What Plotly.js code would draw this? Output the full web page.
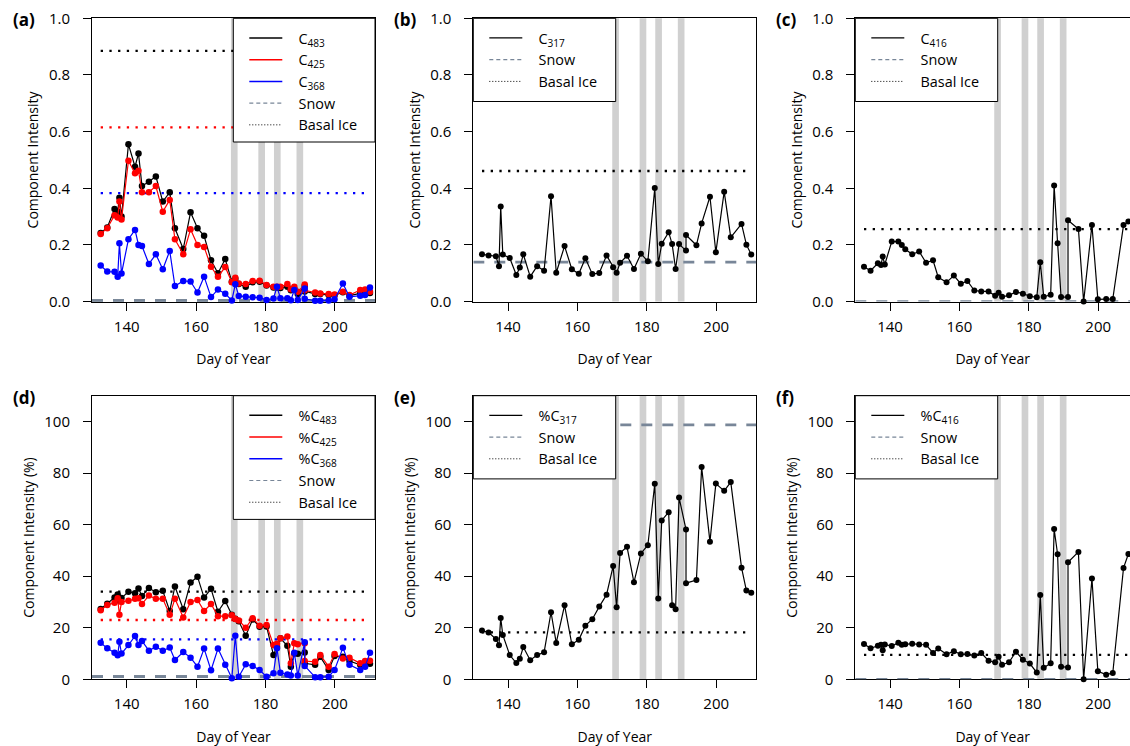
<!DOCTYPE html>
<html><head><meta charset="utf-8">
<script src="https://cdn.plot.ly/plotly-3.0.1.min.js"></script>
<style>html,body{margin:0;padding:0;background:#fff;overflow:hidden}#chart{width:1130px;height:746px}</style>
</head><body><div id="chart"></div>
<script>
// ---------------- data ----------------
const days = [132.5, 134.4, 136.5, 137.4, 137.9, 138.5, 140.5, 142.4, 143.4, 144.4,
  146.4, 148.4, 150.4, 152.4, 153.9, 156.3, 158.4, 160.4, 162.3, 164.3,
  166.3, 168.4, 170.3, 171.3, 172.3, 174.3, 176.3, 178.3, 180.3, 182.3,
  183.3, 184.3, 186.3, 187.3, 188.3, 189.3, 191.3, 191.3, 194.3, 195.8,
  198.2, 199.9, 202.3, 204.2, 207.3, 208.7, 210.1];

const c483 = [0.242, 0.262, 0.327, 0.318, 0.367, 0.300, 0.555, 0.476, 0.523, 0.408,
  0.423, 0.442, 0.353, 0.386, 0.259, 0.186, 0.315, 0.259, 0.232, 0.146,
  0.100, 0.150, 0.070, 0.080, 0.062, 0.052, 0.068, 0.070, 0.057, 0.050,
  0.050, 0.048, 0.052, 0.040, 0.045, 0.027, 0.055, 0.036, 0.027, 0.027,
  0.023, 0.022, 0.033, 0.021, 0.029, 0.031, 0.030];
const c425 = [0.239, 0.259, 0.305, 0.297, 0.353, 0.290, 0.497, 0.453, 0.462, 0.386,
  0.386, 0.408, 0.317, 0.359, 0.220, 0.167, 0.255, 0.200, 0.193, 0.123,
  0.088, 0.122, 0.068, 0.084, 0.064, 0.062, 0.073, 0.074, 0.059, 0.052,
  0.052, 0.052, 0.062, 0.044, 0.052, 0.035, 0.060, 0.040, 0.032, 0.029,
  0.027, 0.025, 0.035, 0.023, 0.041, 0.043, 0.035];
const c368 = [0.127, 0.106, 0.105, 0.088, 0.206, 0.099, 0.220, 0.253, 0.200, 0.196,
  0.133, 0.167, 0.114, 0.179, 0.055, 0.073, 0.071, 0.032, 0.088, 0.016,
  0.043, 0.028, 0.004, 0.061, 0.020, 0.017, 0.015, 0.014, 0.006, 0.011,
  0.052, 0.012, 0.012, 0.005, 0.041, 0.006, 0.046, 0.010, 0.003, 0.003,
  0.004, 0.008, 0.064, 0.017, 0.021, 0.023, 0.050];
const c317 = [0.167, 0.163, 0.160, 0.125, 0.336, 0.166, 0.154, 0.094, 0.120, 0.167,
  0.088, 0.125, 0.109, 0.372, 0.102, 0.196, 0.114, 0.098, 0.153, 0.097,
  0.101, 0.163, 0.121, 0.102, 0.137, 0.162, 0.115, 0.169, 0.142, 0.401,
  0.133, 0.204, 0.245, 0.203, 0.115, 0.203, 0.180, 0.235, 0.199, 0.276,
  0.370, 0.174, 0.388, 0.227, 0.274, 0.201, 0.166];
const c416 = [0.123, 0.109, 0.135, 0.129, 0.159, 0.131, 0.212, 0.212, 0.200, 0.185,
  0.167, 0.177, 0.137, 0.146, 0.086, 0.068, 0.092, 0.063, 0.073, 0.039,
  0.036, 0.036, 0.021, 0.031, 0.017, 0.022, 0.034, 0.028, 0.019, 0.015,
  0.139, 0.017, 0.024, 0.410, 0.206, 0.016, 0.016, 0.287, 0.256, 0.000,
  0.270, 0.008, 0.009, 0.009, 0.270, 0.283, 0.285];

const pc483 = [27.3, 29.3, 31.7, 32.9, 30.5, 31.5, 34.0, 33.4, 35.2, 32.3,
  35.4, 33.8, 34.3, 26.5, 36.0, 27.2, 37.5, 39.8, 31.7, 35.1,
  26.2, 30.4, 25.0, 23.5, 22.5, 16.9, 23.2, 20.4, 20.5, 9.4,
  12.5, 15.9, 13.0, 4.9, 10.0, 9.9, 10.4, 6.2, 5.6, 8.7,
  3.6, 9.0, 8.7, 7.1, 5.6, 6.2, 6.0];
const pc425 = [26.8, 28.8, 29.7, 31.4, 25.0, 30.0, 30.5, 31.2, 31.4, 29.2,
  32.5, 31.2, 31.2, 25.0, 31.2, 24.0, 30.0, 30.8, 26.5, 29.2,
  24.5, 24.5, 24.8, 23.4, 22.8, 20.0, 23.7, 20.8, 21.1, 13.3,
  13.8, 15.9, 16.6, 6.2, 14.0, 13.6, 14.0, 7.1, 6.8, 9.4,
  4.9, 9.8, 8.1, 8.4, 6.2, 7.1, 7.2];
const pc368 = [14.2, 12.0, 10.3, 9.3, 14.6, 10.0, 13.3, 16.8, 13.3, 14.9,
  11.1, 12.6, 11.1, 12.3, 7.5, 10.6, 8.4, 4.9, 11.9, 3.5,
  11.9, 5.6, 0.4, 16.9, 1.0, 5.8, 5.2, 3.6, 1.0, 2.3,
  12.0, 2.5, 1.9, 1.5, 10.3, 1.5, 14.4, 5.2, 0.8, 0.8,
  1.0, 3.6, 12.2, 5.6, 3.6, 4.9, 10.3];
const pc317 = [18.9, 18.2, 15.6, 13.2, 23.8, 17.2, 9.4, 6.3, 8.0, 12.5,
  7.4, 9.4, 10.5, 26.0, 14.1, 28.7, 13.6, 15.3, 20.8, 23.3,
  28.2, 32.8, 43.9, 27.9, 49.0, 51.4, 37.6, 48.8, 52.0, 75.8,
  31.3, 61.6, 64.8, 28.7, 27.2, 70.5, 58.1, 37.3, 38.5, 82.3,
  53.4, 75.9, 73.1, 76.5, 43.3, 34.4, 33.6];
const pc416 = [13.7, 12.0, 13.0, 13.4, 11.3, 13.5, 12.9, 14.2, 13.4, 13.6,
  13.8, 13.5, 13.4, 10.2, 11.9, 9.7, 10.9, 9.7, 9.8, 9.2,
  10.2, 7.2, 6.6, 8.7, 5.6, 6.6, 10.7, 7.6, 6.1, 2.6,
  32.7, 4.5, 6.2, 58.3, 48.5, 4.9, 4.6, 45.4, 49.4, 0.0,
  39.1, 3.1, 1.8, 2.4, 43.2, 48.6, 49.5];

// reference end-member levels: [C483, C425, C368]
const snowA  = [0.003, 0.003, 0.003];
const basalA = [0.885, 0.615, 0.383];
const snowB = 0.139, basalB = 0.461;
const snowC = 0.0,   basalC = 0.256;
const snowD  = [1.0, 1.0, 1.0];
const basalD = [34.0, 23.0, 15.5];
const snowE = 98.7, basalE = 18.2;
const snowF = 0.0,  basalF = 9.5;

const rainDays = [171.0, 178.9, 183.4, 189.9];
const xTicks = [140, 160, 180, 200];
const yTicksTop = [0, 0.2, 0.4, 0.6, 0.8, 1.0];
const yTicksBottom = [0, 20, 40, 60, 80, 100];

// ---------------- layout geometry ----------------
const W = 1130, H = 746;
const FONT = 'Open Sans, sans-serif';
const cols = [[92, 375], [473.3, 756.3], [855.3, 1130]];
const rows = [[18.3, 301.6], [395.7, 679.3]];
const pxPerDay = 3.47, xStart = 130;
const SNOW = 'rgb(120,134,152)';
const BAND = '#d0d0d0';

const layout = {
  width: W, height: H, margin: {l: 0, r: 0, t: 0, b: 0},
  paper_bgcolor: '#fff', plot_bgcolor: '#fff', showlegend: true,
  font: {family: FONT, color: '#000'},
  shapes: [], annotations: []
};
const traces = [];
const panels = ['a', 'b', 'c', 'd', 'e', 'f'];

function axId(n) { return n === 1 ? '' : String(n); }

for (let i = 0; i < 6; i++) {
  const n = i + 1, c = i % 3, r = Math.floor(i / 3);
  const cx = cols[c], ry = rows[r];
  const xEnd = xStart + (cx[1] - cx[0]) / pxPerDay;
  const top = r === 0;
  layout['xaxis' + axId(n)] = {
    domain: [cx[0] / W, cx[1] / W], range: [xStart, xEnd], anchor: 'y' + axId(n),
    tickmode: 'array', tickvals: xTicks, ticks: 'outside', ticklen: 8, tickwidth: 1, tickcolor: '#000',
    ticklabelstandoff: 3,
    showline: true, linecolor: '#000', linewidth: 1, mirror: true, showgrid: false, zeroline: false,
    layer: 'below traces', tickfont: {family: FONT, size: 15, color: '#000'},
    title: {text: 'Day of Year', font: {family: FONT, size: 14, color: '#000'}, standoff: 19},
    fixedrange: true
  };
  layout['yaxis' + axId(n)] = {
    domain: [1 - ry[1] / H, 1 - ry[0] / H], range: top ? [0, 1] : [0, 110], anchor: 'x' + axId(n),
    tickmode: 'array', tickvals: top ? yTicksTop : yTicksBottom, tickformat: top ? '.1f' : 'd',
    ticks: 'outside', ticklen: 8, tickwidth: 1, tickcolor: '#000', ticklabelstandoff: 10,
    showline: true, linecolor: '#000', linewidth: 1, mirror: c < 2, showgrid: false, zeroline: false,
    layer: 'below traces', tickfont: {family: FONT, size: 15, color: '#000'},
    title: {text: top ? 'Component Intensity' : 'Component Intensity (%)',
            font: {family: FONT, size: 14, color: '#000'}, standoff: 6},
    fixedrange: true
  };
  // rain-event bands
  rainDays.forEach(d => layout.shapes.push({
    type: 'rect', xref: 'x' + axId(n), yref: 'y' + axId(n) + ' domain',
    x0: d - 0.96, x1: d + 0.96, y0: 0, y1: 1, fillcolor: BAND, line: {width: 0}, layer: 'below'
  }));
  // panel label
  layout.annotations.push({
    xref: 'paper', yref: 'paper', x: (cx[0] - 81) / W, y: 1 - (ry[0] + 1.5) / H,
    xanchor: 'left', yanchor: 'middle', showarrow: false,
    text: '<b>(' + panels[i] + ')</b>', font: {family: FONT, size: 17, color: '#000'}
  });
}

// ---------------- traces ----------------
function hline(n, yv, x0, x1, color, width, dash) {
  traces.push({type: 'scatter', mode: 'lines', x: [x0, x1], y: [yv, yv],
    xaxis: 'x' + axId(n), yaxis: 'y' + axId(n), line: {color: color, width: width, dash: dash},
    showlegend: false, hoverinfo: 'skip'});
}
function series(n, y, color, msize) {
  traces.push({type: 'scatter', mode: 'lines+markers', x: days, y: y,
    xaxis: 'x' + axId(n), yaxis: 'y' + axId(n), line: {color: color, width: 1.2},
    marker: {color: color, size: msize}, cliponaxis: false, showlegend: false, hoverinfo: 'skip'});
}
function legendEntry(n, name, color, width, dash) {
  traces.push({type: 'scatter', mode: 'lines', x: [null], y: [null],
    xaxis: 'x' + axId(n), yaxis: 'y' + axId(n), name: '\u00a0\u00a0\u00a0' + name,
    legend: n === 1 ? 'legend' : 'legend' + n, showlegend: true,
    line: {color: color, width: width, dash: dash}, hoverinfo: 'skip'});
}

const snowSpan = [xStart, xStart + (cols[0][1] - cols[0][0]) / pxPerDay];
const dataSpan = [days[0], days[days.length - 1]];
const BASAL_DASH = '2.3px,6.4px', SNOW_DASH = '11px,10px';
const colsABC = ['#000000', '#ff0000', '#0000ff'];

// (a)
for (let k = 0; k < 3; k++) hline(1, basalA[k], dataSpan[0], dataSpan[1], colsABC[k], 2.3, BASAL_DASH);
for (let k = 0; k < 3; k++) hline(1, snowA[k], snowSpan[0], snowSpan[1], SNOW, 2.8, SNOW_DASH);
series(1, c483, '#000000', 6.5); series(1, c425, '#ff0000', 6.5); series(1, c368, '#0000ff', 6.5);
// (b)
hline(2, basalB, dataSpan[0], dataSpan[1], '#000', 2.3, BASAL_DASH);
hline(2, snowB, snowSpan[0], snowSpan[1], SNOW, 2.8, SNOW_DASH);
series(2, c317, '#000000', 6);
// (c)
hline(3, basalC, dataSpan[0], dataSpan[1], '#000', 2.3, BASAL_DASH);
hline(3, snowC, snowSpan[0], snowSpan[1], SNOW, 2.8, SNOW_DASH);
series(3, c416, '#000000', 6);
// (d)
for (let k = 0; k < 3; k++) hline(4, basalD[k], dataSpan[0], dataSpan[1], colsABC[k], 2.3, BASAL_DASH);
for (let k = 0; k < 3; k++) hline(4, snowD[k], snowSpan[0], snowSpan[1], SNOW, 2.8, SNOW_DASH);
series(4, pc483, '#000000', 6.5); series(4, pc425, '#ff0000', 6.5); series(4, pc368, '#0000ff', 6.5);
// (e)
hline(5, basalE, dataSpan[0], dataSpan[1], '#000', 2.3, BASAL_DASH);
hline(5, snowE, snowSpan[0], snowSpan[1], SNOW, 2.8, SNOW_DASH);
series(5, pc317, '#000000', 6);
// (f)
hline(6, basalF, dataSpan[0], dataSpan[1], '#000', 2.3, BASAL_DASH);
hline(6, snowF, snowSpan[0], snowSpan[1], SNOW, 2.8, SNOW_DASH);
series(6, pc416, '#000000', 6);

// legends
const legendNames = {
  1: [['C<sub>483</sub>', '#000', 1.5, 'solid'], ['C<sub>425</sub>', '#ff0000', 1.5, 'solid'], ['C<sub>368</sub>', '#0000ff', 1.5, 'solid']],
  2: [['C<sub>317</sub>', '#000', 1.3, 'solid']],
  3: [['C<sub>416</sub>', '#000', 1.3, 'solid']],
  4: [['%C<sub>483</sub>', '#000', 1.5, 'solid'], ['%C<sub>425</sub>', '#ff0000', 1.5, 'solid'], ['%C<sub>368</sub>', '#0000ff', 1.5, 'solid']],
  5: [['%C<sub>317</sub>', '#000', 1.3, 'solid']],
  6: [['%C<sub>416</sub>', '#000', 1.3, 'solid']]
};
const boxW = [141.7, 142.4, 142.4];
for (let n = 1; n <= 6; n++) {
  const c = (n - 1) % 3, r = Math.floor((n - 1) / 3);
  legendNames[n].forEach(e => legendEntry(n, e[0], e[1], e[2], e[3]));
  legendEntry(n, 'Snow', SNOW, 1.2, '4px,3px');
  legendEntry(n, 'Basal Ice', '#000', 1, '1px,2px');
  const nItems = legendNames[n].length + 2;
  const bx0 = c === 0 ? cols[0][1] - boxW[0] : cols[c][0];
  const bx1 = bx0 + boxW[c];
  const by0 = rows[r][0];
  const by1 = by0 + (nItems === 5 ? 123.7 : 83.2);
  layout.shapes.push({type: 'rect', xref: 'paper', yref: 'paper',
    x0: bx0 / W, x1: bx1 / W, y0: 1 - by1 / H, y1: 1 - by0 / H,
    fillcolor: '#ffffff', line: {color: '#000', width: 1}, layer: 'above'});
  layout[n === 1 ? 'legend' : 'legend' + n] = {
    xref: 'paper', yref: 'paper', x: (bx0 + 11) / W, y: 1 - (by0 + 3.8) / H,
    xanchor: 'left', yanchor: 'top', bgcolor: 'rgba(0,0,0,0)', borderwidth: 0,
    itemwidth: 33, tracegroupgap: 0, traceorder: 'normal',
    font: {family: FONT, size: 14.4, color: '#000'}
  };
}

Plotly.newPlot('chart', traces, layout, {displayModeBar: false, staticPlot: true});
</script>
</body></html>
